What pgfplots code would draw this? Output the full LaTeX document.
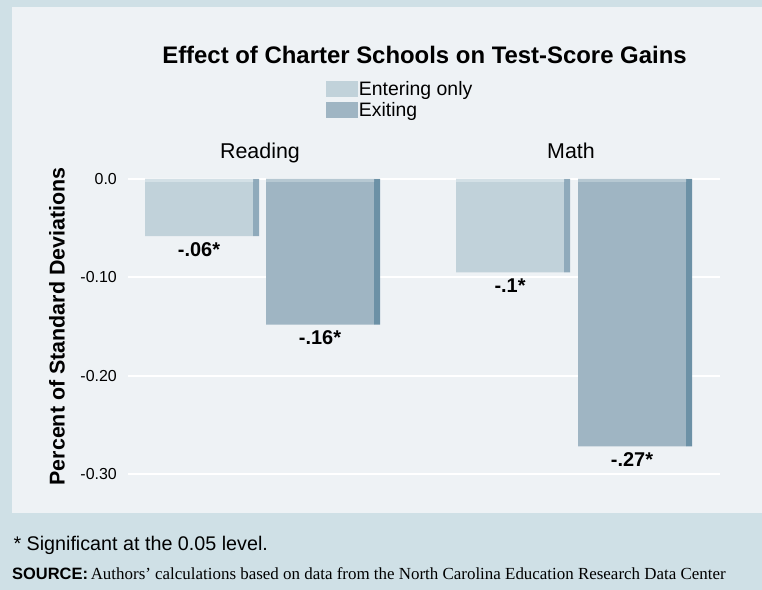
\documentclass[border=0pt]{standalone}
\usepackage{pgfplots}
\pgfplotsset{compat=1.18}
\usepackage{fontspec}
\setmainfont{Liberation Sans}
\newfontfamily\srcserif{Liberation Serif}
\definecolor{outerbg}{HTML}{CFE0E6}
\definecolor{panelbg}{HTML}{EEF2F5}
\definecolor{entface}{HTML}{C1D2DA}
\definecolor{entside}{HTML}{8FAABB}
\definecolor{enttop}{HTML}{D3E0E6}
\definecolor{exface}{HTML}{9FB5C3}
\definecolor{exside}{HTML}{6C91A6}
\definecolor{extop}{HTML}{B6C8D2}
\begin{document}
\begin{tikzpicture}[x=1bp,y=1bp]
\fill[outerbg] (0,0) rectangle (762,590);
\fill[panelbg] (12,77) rectangle (762,583);
\node[font=\fontsize{24}{28}\selectfont\bfseries] at (424.5,535) {Effect of Charter Schools on Test-Score Gains};
\begin{axis}[
  at={(128bp,116bp)}, anchor=south west,
  scale only axis, width=592bp, height=295bp,
  xmin=128, xmax=720, ymin=-0.3, ymax=0,
  clip=false,
  axis line style={draw=none},
  major tick length=0pt,
  ymajorgrids, grid style={white, line width=2bp},
  ytick={0,-0.1,-0.2,-0.3},
  yticklabels={0.0,-0.10,-0.20,-0.30},
  yticklabel style={font=\fontsize{16}{19}\selectfont, inner sep=0pt, xshift=-11bp},
  xtick={260,571},
  xticklabels={Reading,Math},
  xticklabel pos=upper,
  xticklabel style={font=\fontsize{21.5}{25}\selectfont, anchor=base, yshift=20bp},
  ylabel={Percent of Standard Deviations},
  every axis y label/.style={at={(axis description cs:-0.12,0.5)}, rotate=90, anchor=center, font=\fontsize{21.5}{25}\selectfont\bfseries},
  legend style={at={(0.334,1.336)}, anchor=north west, draw=none, fill=none, inner sep=0pt,
    font=\fontsize{19.5}{22}\selectfont, row sep=4bp,
    nodes={inner sep=1bp}},
  legend cell align=left,
  legend image code/.code={\fill[#1] (0bp,-8bp) rectangle (32bp,8bp);},
]
% Entering only: front face
\addplot[ybar, bar width=108, bar shift=0pt, fill=entface, draw=none,
  nodes near coords, point meta=explicit symbolic,
  every node near coord/.append style={font=\fontsize{20}{23}\selectfont\bfseries, text=black, anchor=north, yshift=-3bp}]
  coordinates {(199,-0.058) [-.06*] (510,-0.095) [-.1*]};
\addlegendentry{Entering only}
% Exiting: front face
\addplot[ybar, bar width=108, bar shift=0pt, fill=exface, draw=none,
  nodes near coords, point meta=explicit symbolic,
  every node near coord/.append style={font=\fontsize{20}{23}\selectfont\bfseries, text=black, anchor=north, yshift=-3bp}]
  coordinates {(320,-0.148) [-.16*] (632,-0.272) [-.27*]};
\addlegendentry{Exiting}
% side faces
\addplot[ybar, bar width=6, bar shift=0pt, fill=entside, draw=none, forget plot]
  coordinates {(256,-0.058) (567,-0.095)};
\addplot[ybar, bar width=6, bar shift=0pt, fill=exside, draw=none, forget plot]
  coordinates {(377,-0.148) (689,-0.272)};
% top faces
\addplot[ybar, bar width=108, bar shift=0pt, fill=enttop, draw=none, forget plot]
  coordinates {(199,-0.003) (510,-0.003)};
\addplot[ybar, bar width=108, bar shift=0pt, fill=extop, draw=none, forget plot]
  coordinates {(320,-0.003) (632,-0.003)};
\end{axis}
\node[anchor=west, font=\fontsize{19.8}{23}\selectfont] at (10,45) {* Significant at the 0.05 level.};
\node[anchor=west, inner sep=2bp] at (10,16) {{\fontsize{16.5}{19}\selectfont\bfseries SOURCE:} {\srcserif\fontsize{17}{19}\selectfont Authors’ calculations based on data from the North Carolina Education Research Data Center}};
\end{tikzpicture}
\end{document}
